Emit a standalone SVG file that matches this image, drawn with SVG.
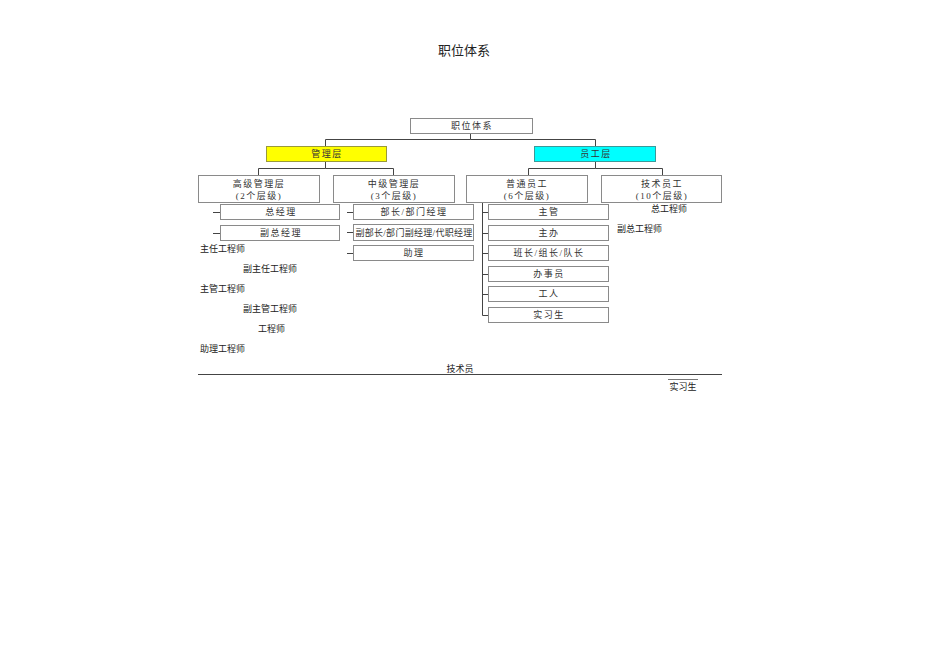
<svg xmlns="http://www.w3.org/2000/svg" width="950" height="672" viewBox="0 0 950 672">
<style>
.bx{fill:#fff;stroke:#8a8a8a;stroke-width:1}
.bt{font-family:"Liberation Serif","Noto Sans CJK SC",serif;font-size:9px;fill:#333;text-anchor:middle;letter-spacing:1.5px}
.pt{font-family:"Liberation Serif","Noto Sans CJK SC",serif;font-size:9px;fill:#222}
.cn{stroke:#444;stroke-width:1;fill:none}
</style>
<rect width="950" height="672" fill="#fff"/>
<text x="464" y="55" font-family="Liberation Serif,Noto Sans CJK SC,serif" font-size="13" fill="#222" text-anchor="middle">职位体系</text>

<g id="connectors">
<path class="cn" d="M470.5 134V139.5H325.5V146M470.5 139.5H595.5V146"/>
<path class="cn" d="M325.5 162V168.5H258.5V175M325.5 168.5H393.5V175"/>
<path class="cn" d="M595.5 162V168.5H528.5V175M595.5 168.5H662.5V175"/>
<path class="cn" d="M213 212.5H220M213 233.5H220"/>
<path class="cn" d="M347 212.5H353M347 232.5H353M347 253.5H353"/>
<path class="cn" d="M482.5 203V315.5H488M482.5 212.5H488M482.5 233.5H488M482.5 253.5H488M482.5 274.5H488M482.5 294.5H488"/>
<path class="cn" d="M198 374.5H722"/>
<path d="M668 379.5H698" stroke="#777" stroke-width="1"/>
</g>

<g id="root"><rect class="bx" x="410.5" y="118.5" width="122" height="15"/><text class="bt" x="472" y="129">职位体系</text></g>
<g id="mgmt"><rect x="266.5" y="146.5" width="120" height="15" fill="#ffff00" stroke="#9a9a3a"/><text class="bt" x="327" y="157">管理层</text></g>
<g id="staff"><rect x="534.5" y="146.5" width="121" height="15" fill="#00ffff" stroke="#3a9a9a"/><text class="bt" x="596" y="157">员工层</text></g>

<g id="senior"><rect class="bx" x="198.5" y="175.5" width="121" height="27"/><text class="bt" x="259" y="187">高级管理层</text><text class="bt" x="259" y="199">(2个层级)</text></g>
<g id="middle"><rect class="bx" x="333.5" y="175.5" width="121" height="27"/><text class="bt" x="394" y="187">中级管理层</text><text class="bt" x="394" y="199">(3个层级)</text></g>
<g id="normal"><rect class="bx" x="466.5" y="175.5" width="121" height="27"/><text class="bt" x="527" y="187">普通员工</text><text class="bt" x="527" y="199">(6个层级)</text></g>
<g id="tech"><rect class="bx" x="601.5" y="175.5" width="120" height="27"/><text class="bt" x="662" y="187">技术员工</text><text class="bt" x="662" y="199">(10个层级)</text></g>

<g id="gm"><rect class="bx" x="220.5" y="204.5" width="119" height="15"/><text class="bt" x="281" y="215">总经理</text></g>
<g id="dgm"><rect class="bx" x="220.5" y="225.5" width="119" height="15"/><text class="bt" x="281" y="236">副总经理</text></g>

<g id="dept"><rect class="bx" x="353.5" y="204.5" width="120" height="15"/><text class="bt" x="414" y="215">部长/部门经理</text></g>
<g id="ddept"><rect class="bx" x="353.5" y="224.5" width="120" height="16"/><text class="bt" x="414" y="236" style="letter-spacing:0.3px">副部长/部门副经理/代职经理</text></g>
<g id="asst"><rect class="bx" x="353.5" y="245.5" width="120" height="15"/><text class="bt" x="414" y="256">助理</text></g>

<g id="sup"><rect class="bx" x="488.5" y="204.5" width="120" height="15"/><text class="bt" x="549" y="215">主管</text></g>
<g id="officer"><rect class="bx" x="488.5" y="225.5" width="120" height="15"/><text class="bt" x="549" y="236">主办</text></g>
<g id="lead"><rect class="bx" x="488.5" y="245.5" width="120" height="15"/><text class="bt" x="549" y="256">班长/组长/队长</text></g>
<g id="clerk"><rect class="bx" x="488.5" y="266.5" width="120" height="15"/><text class="bt" x="549" y="277">办事员</text></g>
<g id="worker"><rect class="bx" x="488.5" y="286.5" width="120" height="15"/><text class="bt" x="549" y="297">工人</text></g>
<g id="intern"><rect class="bx" x="488.5" y="307.5" width="120" height="15"/><text class="bt" x="549" y="318">实习生</text></g>

<g id="tech-list">
<text class="pt" x="651" y="212">总工程师</text>
<text class="pt" x="617" y="232">副总工程师</text>
<text class="pt" x="200" y="252">主任工程师</text>
<text class="pt" x="243" y="272">副主任工程师</text>
<text class="pt" x="200" y="292">主管工程师</text>
<text class="pt" x="243" y="312">副主管工程师</text>
<text class="pt" x="258" y="332">工程师</text>
<text class="pt" x="200" y="352">助理工程师</text>
<text class="pt" x="460" y="372" text-anchor="middle">技术员</text>
<text class="pt" x="683" y="390" text-anchor="middle">实习生</text>
</g>
</svg>
